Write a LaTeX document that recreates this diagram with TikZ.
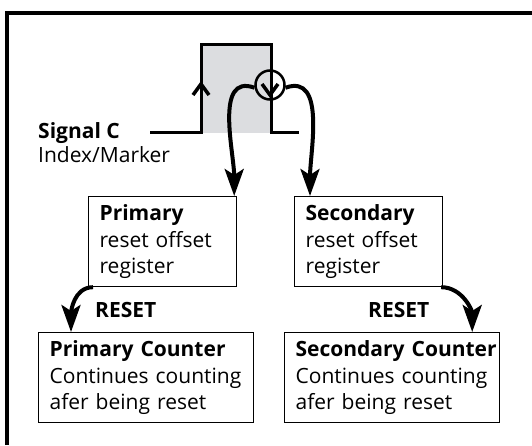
\documentclass[tikz,border=0pt]{standalone}
\usepackage{fontspec}
\setmainfont{Open Sans}
\usetikzlibrary{arrows.meta}
\definecolor{pulsegray}{RGB}{220,221,224}
\begin{document}
\begin{tikzpicture}[x=1pt, y=1pt, line cap=butt, line join=miter, font=\fontsize{21pt}{26.5pt}\selectfont]
	\tikzset{
		box/.style={draw, line width=1.2pt, anchor=north west, align=left, inner xsep=11pt, inner ysep=0pt, minimum height=90pt, text width=#1,
			execute at begin node={\hyphenpenalty=10000\hbadness=10000\hfuzz=20pt}},
		flow/.style={line width=4pt, -{Stealth[length=27pt, width=19pt, inset=6pt]}},
		wave/.style={line width=3pt},
		tag/.style={anchor=base west, font=\fontsize{21pt}{26.5pt}\selectfont\bfseries, inner sep=0pt}
	}
	\useasboundingbox (0,0) rectangle (532,445);
	
	% OUTER FRAME
	\draw[line width=3.5pt] (7,0) -- (7,432) -- (532,432);
	
	% SIGNAL C PULSE
	\fill[pulsegray] (201,312) rectangle (271,400);
	\draw[wave] (150,312) -- (201,312) -- (201,400) -- (271,400) -- (271,312) -- (299,312);
	\draw[line width=3.5pt] (193,350) -- (201,361) -- (209,350);
	\node[circle, draw, line width=2.5pt, minimum size=29pt, inner sep=0pt] (edge) at (270,360) {};
	\draw[line width=3.5pt] (262,361) -- (270,350) -- (278,361);
	\node[tag] (sig) at (38,306) {Signal C};
	\node[anchor=base west, inner sep=0pt] (idx) at (38,282) {Index/Marker};
	
	% OFFSET REGISTERS
	\node[box=126pt] (prim) at (88,249) {\textbf{Primary}\\reset offset\\register};
	\node[box=126pt] (sec) at (294,249) {\textbf{Secondary}\\reset offset\\register};
	
	% COUNTERS
	\node[box=193pt] (pcnt) at (38,113) {\textbf{Primary~Counter}\\Continues~counting\\afer being reset};
	\node[box=193pt] (scnt) at (284,113) {\textbf{Secondary~Counter}\\Continues~counting\\afer being reset};
	
	\node[tag] (rst1) at (95,128) {RESET};
	\node[tag] (rst2) at (368,128) {RESET};
	
	% ARROWS
	\draw[flow] (edge.190) to[out=160, in=90] ([xshift=-3pt]prim.north east);
	\draw[flow] (edge.-10) to[out=20, in=90] ([xshift=16pt]sec.north west);
	\draw[flow] ([xshift=5pt]prim.south west) to[out=180, in=90] ([xshift=33pt]pcnt.north west);
	\draw[flow] ([xshift=-2pt]sec.south east) to[out=0, in=90] ([xshift=-28pt]scnt.north east);
\end{tikzpicture}
\end{document}
